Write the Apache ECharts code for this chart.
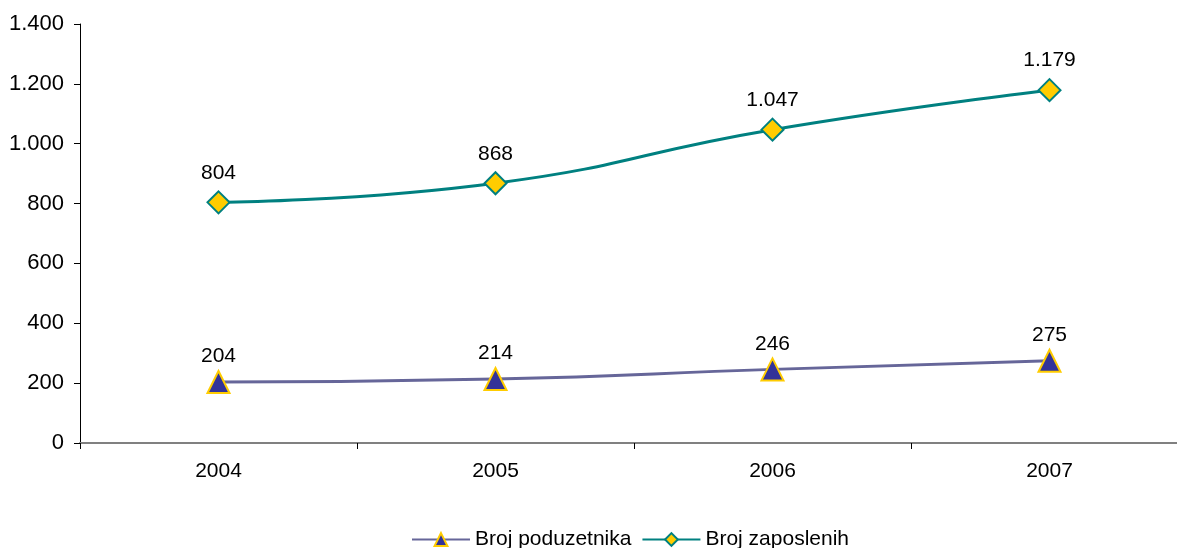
<!DOCTYPE html>
<html>
<head>
<meta charset="utf-8">
<script src="https://cdn.jsdelivr.net/npm/echarts@6/dist/echarts.min.js"></script>
<style>
  html, body { margin: 0; padding: 0; background: #fff; }
  #chart { width: 1177px; height: 548px; }
</style>
</head>
<body>
<div id="chart"></div>
<script>
  // podaci
  let years = ['2004', '2005', '2006', '2007'];
  let brojPoduzetnika = [204, 214, 246, 275];
  let brojZaposlenih = [804, 868, 1047, 1179];

  // 1.400 format
  function fmt(v) {
    return String(v).replace(/\B(?=(\d{3})+(?!\d))/g, '.');
  }

  let chart = echarts.init(document.getElementById('chart'));

  let option = {
    animation: false,
    textStyle: { fontFamily: 'Liberation Sans, Arial, sans-serif' },
    grid: {
      left: 80,
      top: 24,
      width: 1108,
      height: 419,
      outerBoundsMode: 'none'
    },
    legend: {
      top: 524,
      left: 406,
      itemGap: 10,
      itemWidth: 58,
      itemHeight: 16,
      textStyle: { fontSize: 21, color: '#000' },
      data: ['Broj poduzetnika', 'Broj zaposlenih']
    },
    xAxis: {
      type: 'category',
      data: years,
      boundaryGap: true,
      axisLine: { lineStyle: { color: '#808080', width: 2 } },
      axisTick: { show: true, length: 6, lineStyle: { color: '#000' } },
      axisLabel: { fontSize: 21, color: '#000', margin: 18 }
    },
    yAxis: {
      type: 'value',
      min: 0,
      max: 1400,
      interval: 200,
      splitLine: { show: false },
      axisLine: { show: true, lineStyle: { color: '#000' } },
      axisTick: { show: true, length: 6, lineStyle: { color: '#000' } },
      axisLabel: { fontSize: 22, color: '#000', margin: 16, formatter: fmt }
    },
    series: [
      {
        name: 'Broj poduzetnika',
        type: 'line',
        data: brojPoduzetnika,
        smooth: true,
        symbol: 'triangle',
        symbolSize: 22,
        lineStyle: { color: '#666699', width: 3 },
        itemStyle: { color: '#333399', borderColor: '#FFCC00', borderWidth: 2 },
        label: {
          show: true,
          position: 'top',
          distance: 3,
          fontSize: 21,
          color: '#000',
          formatter: function (p) { return fmt(p.value); }
        }
      },
      {
        name: 'Broj zaposlenih',
        type: 'line',
        data: brojZaposlenih,
        smooth: true,
        symbol: 'diamond',
        symbolSize: 22,
        lineStyle: { color: '#008080', width: 3 },
        itemStyle: { color: '#FFCC00', borderColor: '#008080', borderWidth: 2 },
        label: {
          show: true,
          position: 'top',
          distance: 7,
          fontSize: 21,
          color: '#000',
          formatter: function (p) { return fmt(p.value); }
        }
      }
    ]
  };

  chart.setOption(option);
</script>
</body>
</html>
